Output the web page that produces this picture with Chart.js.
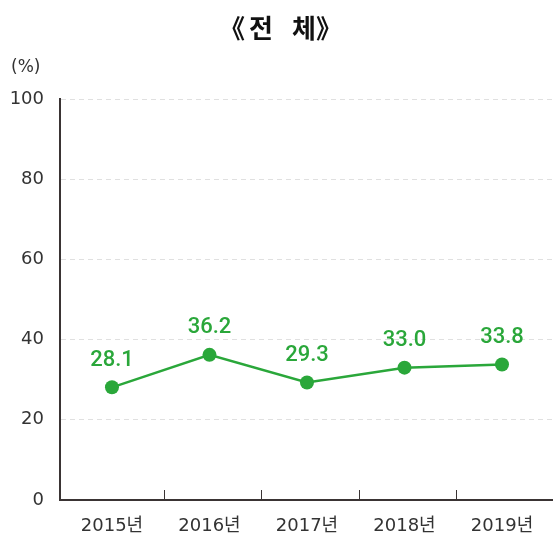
<!DOCTYPE html>
<html><head><meta charset="utf-8">
<script src="https://cdn.jsdelivr.net/npm/chart.js@4/dist/chart.umd.min.js"></script>
<style>html,body{margin:0;padding:0;background:#fff}#wrap{width:553px;height:538px}</style>
</head><body><div id="wrap"><canvas id="c" width="553" height="538"></canvas></div>
<script>
const categories = ['2015년','2016년','2017년','2018년','2019년'];
const values = [28.1, 36.2, 29.3, 33.0, 33.8];
const yTicks = [0, 20, 40, 60, 80, 100];
const titleChars = ['《', '전', '체', '》'];
const unitLabel = '(%)';

const GREEN = '#2aa73a';
const DARK = '#3a3434';
const NUMFONT = "'DejaVu Sans', 'Noto Sans CJK KR', sans-serif";
const KRFONT = "'Noto Sans CJK KR', sans-serif";

const overlay = {
  id: 'overlay',
  afterDraw(chart) {
    const ctx = chart.ctx;
    const xs = chart.scales.x, ys = chart.scales.y;
    ctx.save();
    // title
    ctx.fillStyle = '#111';
    ctx.font = "bold 26px " + KRFONT;
    ctx.textAlign = 'center'; ctx.textBaseline = 'middle';
    const tx = [232, 261, 304, 329];
    titleChars.forEach((ch, i) => ctx.fillText(ch, tx[i], 28));
    // unit
    ctx.font = "17px " + NUMFONT;
    ctx.textAlign = 'left';
    ctx.fillStyle = '#333';
    ctx.fillText(unitLabel, 11, 68);
    // category boundary tick marks
    ctx.strokeStyle = DARK; ctx.lineWidth = 1;
    for (let i = 0; i < categories.length - 1; i++) {
      const px = Math.round(xs.getPixelForValue(i + 0.53)) + 0.5;
      ctx.beginPath(); ctx.moveTo(px, ys.bottom - 10); ctx.lineTo(px, ys.bottom); ctx.stroke();
    }
    // data labels
    const meta = chart.getDatasetMeta(0);
    ctx.fillStyle = GREEN;
    ctx.font = "500 22px Roboto, sans-serif";
    ctx.textAlign = 'center'; ctx.textBaseline = 'middle';
    meta.data.forEach((pt, i) => {
      ctx.fillText(values[i].toFixed(1), pt.x, pt.y - 27);
    });
    ctx.restore();
  }
};

new Chart(document.getElementById('c'), {
  type: 'line',
  data: {
    datasets: [{
      data: values.map((v, i) => ({x: i, y: v})),
      borderColor: GREEN,
      backgroundColor: GREEN,
      borderWidth: 2.5,
      pointRadius: 7,
      pointHoverRadius: 7,
      pointBackgroundColor: GREEN,
      pointBorderWidth: 0,
      tension: 0
    }]
  },
  options: {
    responsive: false,
    animation: false,
    devicePixelRatio: 1,
    layout: { autoPadding: false, padding: { top: 99, right: 0, left: 0, bottom: 0 } },
    plugins: { legend: { display: false }, tooltip: { enabled: false }, title: { display: false } },
    scales: {
      x: {
        type: 'linear',
        min: -0.533, max: 4.523,
        afterBuildTicks: s => { s.ticks = categories.map((c, i) => ({value: i})); },
        afterFit: s => { s.height = 38; s.paddingLeft = 0; s.paddingRight = 0; },
        grid: { display: false, drawTicks: false },
        border: { display: true, color: DARK, width: 2 },
        ticks: {
          callback: v => categories[v],
          color: '#333', font: { size: 18, family: NUMFONT }, padding: 16,
          maxRotation: 0, autoSkip: false
        }
      },
      y: {
        min: 0, max: 100,
        afterBuildTicks: s => { s.ticks = yTicks.map(v => ({value: v})); },
        afterFit: s => { s.width = 60; s.paddingTop = 0; s.paddingBottom = 0; },
        grid: { color: '#e0e0e0', lineWidth: 1, drawTicks: false },
        border: { display: true, color: DARK, width: 2, dash: [5, 4] },
        ticks: { color: '#333', font: { size: 18, family: NUMFONT }, padding: 16 }
      }
    }
  },
  plugins: [overlay]
});
</script></body></html>
